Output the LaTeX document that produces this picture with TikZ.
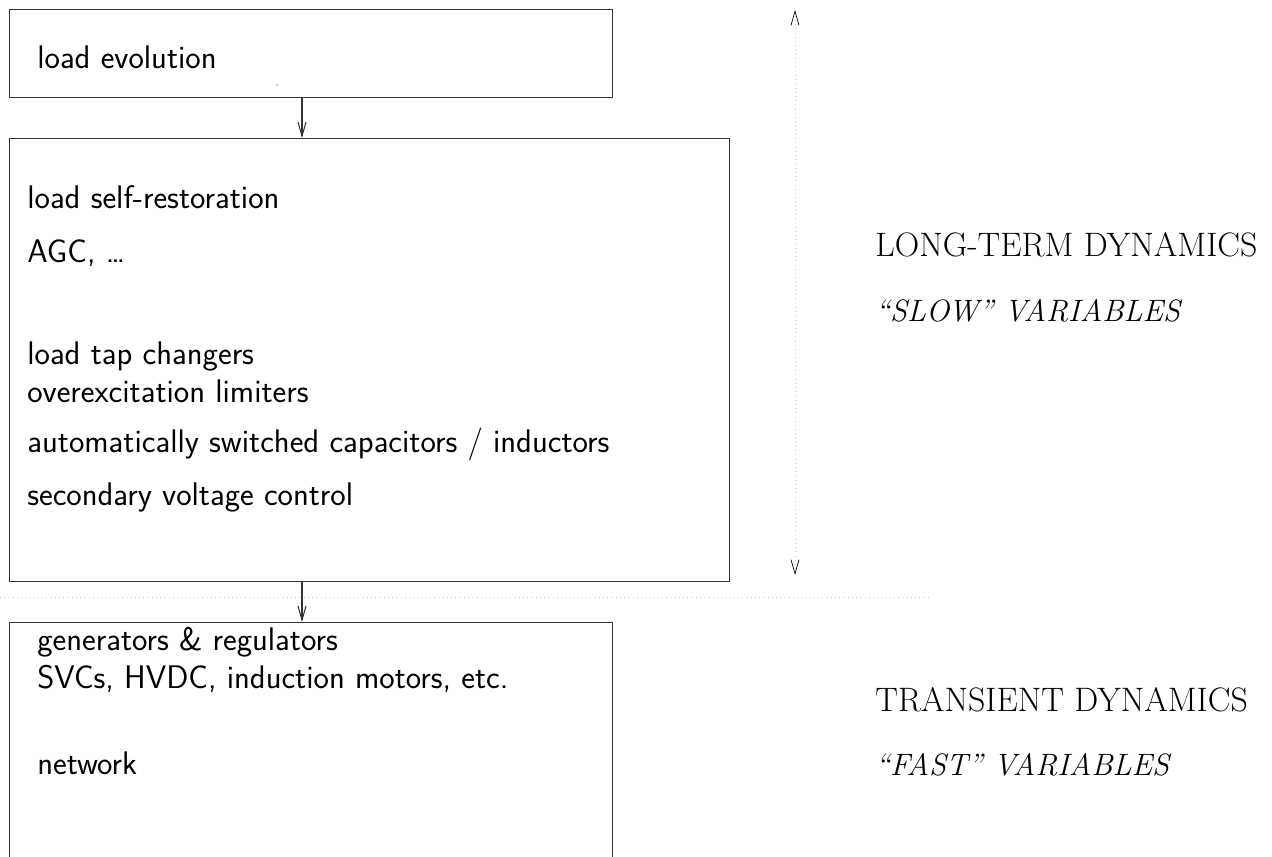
\documentclass[tikz,border=0pt]{standalone}
\usepackage{amsmath,amssymb}
\usepackage{tikz}
\usetikzlibrary{arrows.meta, positioning, calc}
\usepackage{xcolor}
\definecolor{frame}{HTML}{333333}
\definecolor{guide}{HTML}{C8C8C8}

\begin{document}
\begin{tikzpicture}[
    blk/.style={draw=frame, line width=0.7pt, inner sep=0pt, anchor=north west},
    item/.style={anchor=base west, inner sep=0pt, font=\sffamily\fontsize{18.6}{20}\selectfont},
    lbl/.style={anchor=base west, inner sep=0pt, font=\fontsize{19.3}{22}\selectfont},
    ilbl/.style={anchor=base west, inner sep=0pt, font=\itshape\fontsize{17.6}{20}\selectfont},
    >={Straight Barb[length=2.8mm, width=1.6mm]}
]
\useasboundingbox (0,0) rectangle (25.44,-17.12);
% Boxes
\node[blk, minimum width=12.06cm, minimum height=1.76cm] (evo) at (0.18,-0.18) {};
\node[blk, minimum width=14.40cm, minimum height=8.86cm] (long) at (0.18,-2.76) {};
\node[blk, minimum width=12.06cm, minimum height=5.60cm] (fast) at (0.18,-12.44) {};
% Box texts
\node[item] (t0) at (0.74,-1.36) {load evolution};
\node[item] (t1) at (0.54,-4.16) {load self-restoration};
\node[item] (t2) at (0.54,-5.24) {AGC, \ldots};
\node[item] (t3) at (0.54,-7.28) {load tap changers};
\node[item] (t4) at (0.54,-8.04) {overexcitation limiters};
\node[item] (t5) at (0.54,-9.04) {automatically switched capacitors / inductors};
\node[item] (t6) at (0.54,-10.10) {secondary voltage control};
\node[item] (t7) at (0.74,-13.00) {generators \& regulators};
\node[item] (t8) at (0.74,-13.76) {SVCs, HVDC, induction motors, etc.};
\node[item] (t9) at (0.74,-15.48) {network};
\fill[frame] (5.54,-1.70) circle (0.012);
% Right labels
\node[lbl] (ltd) at (17.5,-5.12) {LONG-TERM DYNAMICS};
\node[ilbl] (slow) at (17.5,-6.42) {``SLOW'' VARIABLES};
\node[lbl] (trd) at (17.5,-14.22) {TRANSIENT DYNAMICS};
\node[ilbl] (fst) at (17.5,-15.50) {``FAST'' VARIABLES};
% Arrows between boxes
\coordinate (ax) at (6.04,0);
\draw[->, frame, line width=0.6pt] (ax |- evo.south) -- (ax |- long.north);
\draw[->, frame, line width=0.6pt] (ax |- long.south) -- (ax |- fast.north);
% Time scale
\coordinate (top) at (15.9,-0.2);
\coordinate (bot) at (15.9,-11.5);
\draw[guide, dotted, line width=0.4pt,
      {Straight Barb[length=2.8mm, width=1.6mm, color=black]}-{Straight Barb[length=2.8mm, width=1.6mm, color=black]}]
      (top) -- (bot);
\coordinate (sl) at (0,-11.94);
\coordinate (sr) at (18.6,-11.94);
\draw[guide, dotted, line width=0.4pt] (sl) -- (sr);
\end{tikzpicture}
\end{document}
